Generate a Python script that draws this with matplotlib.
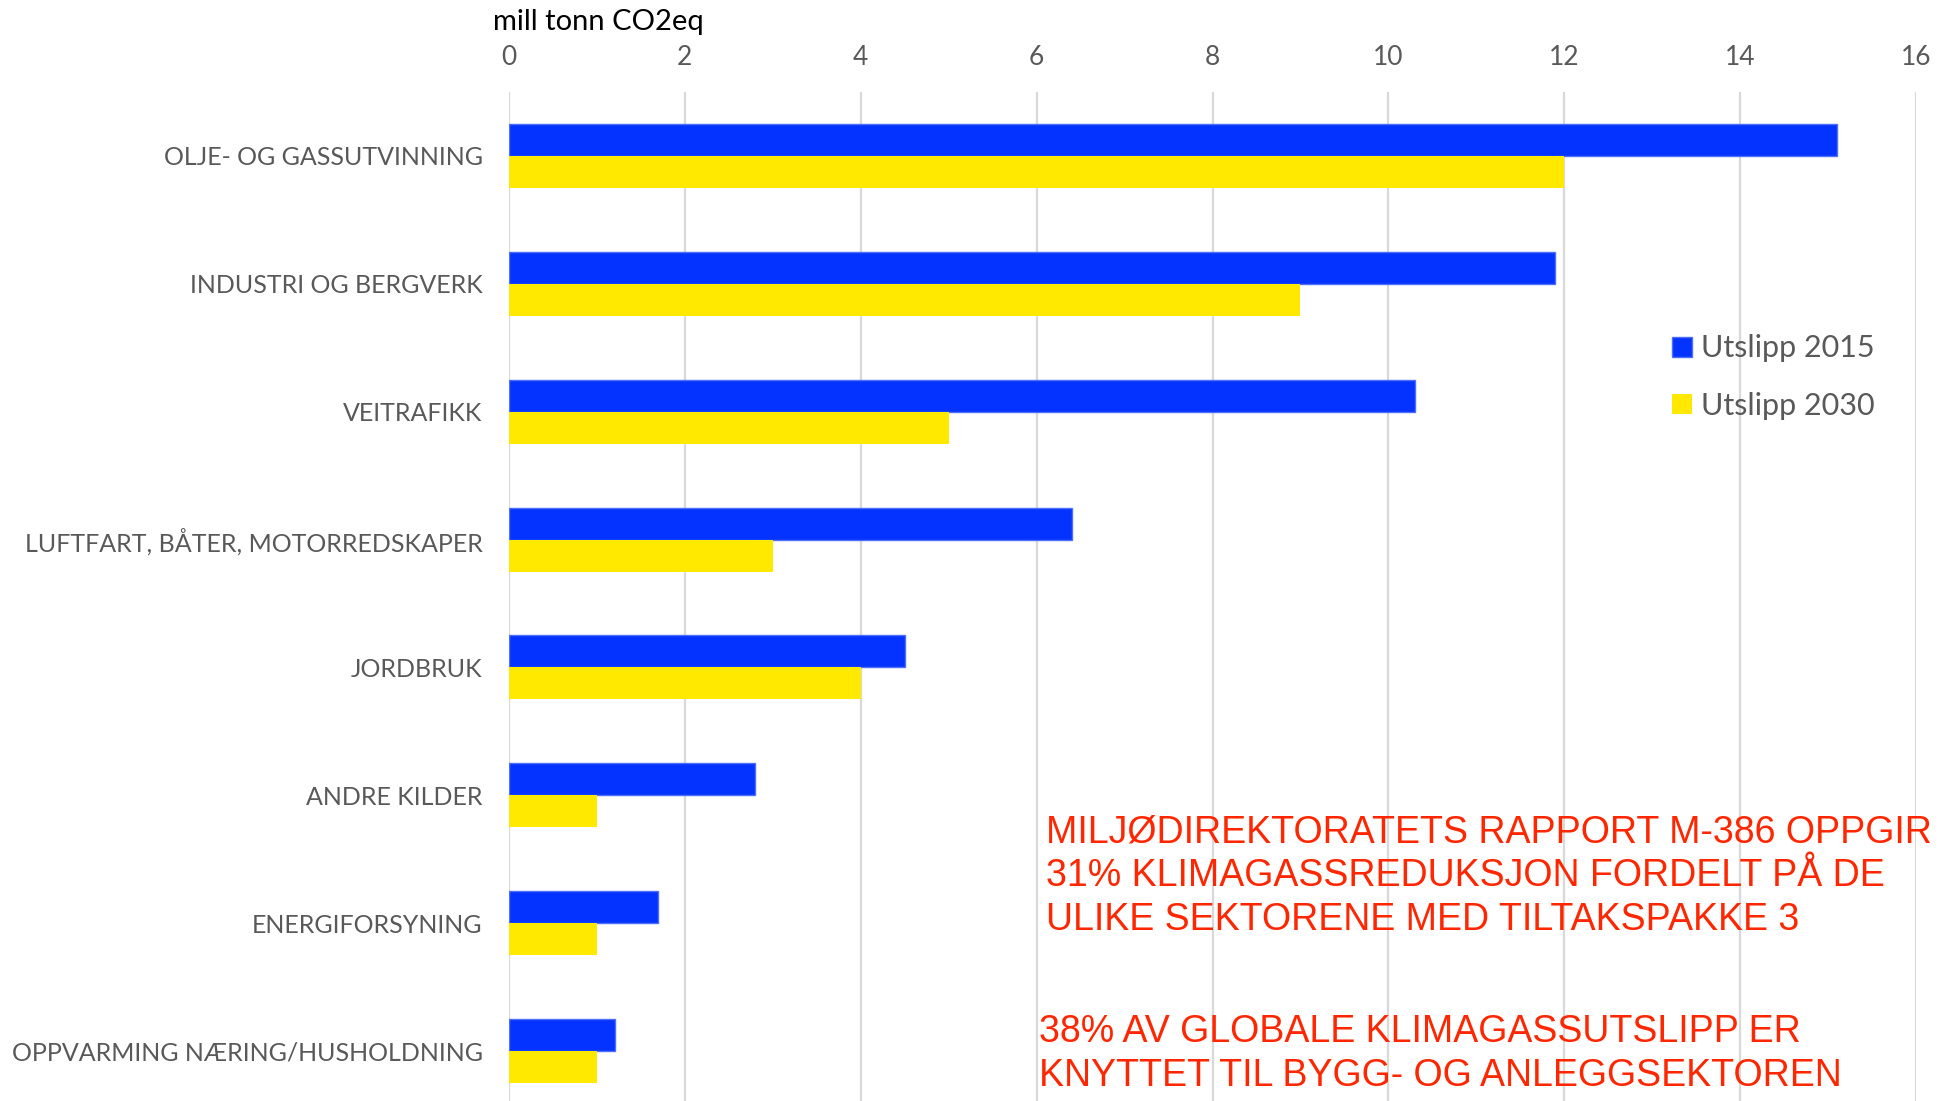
import matplotlib
matplotlib.use("Agg")
import matplotlib.pyplot as plt
import numpy as np

# sectors, top to bottom
sectors = [
    "OLJE- OG GASSUTVINNING",
    "INDUSTRI OG BERGVERK",
    "VEITRAFIKK",
    "LUFTFART, BÅTER, MOTORREDSKAPER",
    "JORDBRUK",
    "ANDRE KILDER",
    "ENERGIFORSYNING",
    "OPPVARMING NÆRING/HUSHOLDNING",
]
utslipp_2015 = [15.1, 11.9, 10.3, 6.4, 4.5, 2.8, 1.7, 1.2]
utslipp_2030 = [12.0, 9.0, 5.0, 3.0, 4.0, 1.0, 1.0, 1.0]
series_labels = ["Utslipp 2015", "Utslipp 2030"]
xticks = [0, 2, 4, 6, 8, 10, 12, 14, 16]

note_1 = ("MILJØDIREKTORATETS RAPPORT M-386 OPPGIR\n"
          "31% KLIMAGASSREDUKSJON FORDELT PÅ DE\n"
          "ULIKE SEKTORENE MED TILTAKSPAKKE 3")
note_2 = ("38% AV GLOBALE KLIMAGASSUTSLIPP ER\n"
          "KNYTTET TIL BYGG- OG ANLEGGSEKTOREN")

BLUE = "#0433FF"
YELLOW = "#FFE900"
GREY = "#595959"
RED = "#FF2600"

W, H = 1943, 1101
fig = plt.figure(figsize=(W / 100, H / 100), dpi=100)
fig.patch.set_facecolor("white")

# plot area in pixels: x 509..1916, y 92..1115 (runs past the bottom edge)
ax = fig.add_axes([509 / W, 1 - 1115 / H, (1916 - 509) / W, (1115 - 92) / H])

y = np.arange(len(sectors))
bh = 0.25
ax.barh(y - bh / 2, utslipp_2015, height=bh, color=BLUE, edgecolor="#4F6EFF",
        linewidth=1, label=series_labels[0], zorder=3)
ax.barh(y + bh / 2, utslipp_2030, height=bh, color=YELLOW, linewidth=0,
        label=series_labels[1], zorder=3)

ax.set_xlim(0, 16)
ax.set_ylim(len(sectors) - 0.5, -0.5)
ax.set_xticks(xticks)
ax.set_xticklabels([str(t) for t in xticks])
ax.xaxis.tick_top()
ax.set_yticks(y)
ax.set_yticklabels(sectors)

ax.tick_params(axis="x", length=0, pad=16, labelsize=19, labelcolor=GREY)
ax.tick_params(axis="y", length=0, pad=19, labelsize=18, labelcolor=GREY)
for lab in ax.get_xticklabels() + ax.get_yticklabels():
    lab.set_fontfamily("Lato")

ax.grid(axis="x", color="#D9D9D9", linewidth=1.6, zorder=0)
ax.set_axisbelow(True)
for s in ax.spines.values():
    s.set_visible(False)

leg = ax.legend(loc="center left", bbox_to_anchor=(1672 / W, 1 - 377 / H),
                bbox_transform=fig.transFigure, frameon=False,
                prop={"family": "Lato", "size": 22}, labelcolor=GREY,
                handlelength=0.65, handleheight=0.65, handletextpad=0.3,
                labelspacing=0.95, borderpad=0, borderaxespad=0)

fig.text(493 / W, 1 - 22 / H, "mill tonn CO2eq", fontsize=21, family="Lato",
         color="black", ha="left", va="center")

fig.text(1046 / W, 1 - 876 / H, note_1, fontsize=27, family="Liberation Sans",
         color=RED, ha="left", va="center", linespacing=1.27)
fig.text(1039 / W, 1 - 1054 / H, note_2, fontsize=27, family="Liberation Sans",
         color=RED, ha="left", va="center", linespacing=1.27)

fig.savefig("out.png", dpi=100, facecolor="white")
plt.close(fig)
